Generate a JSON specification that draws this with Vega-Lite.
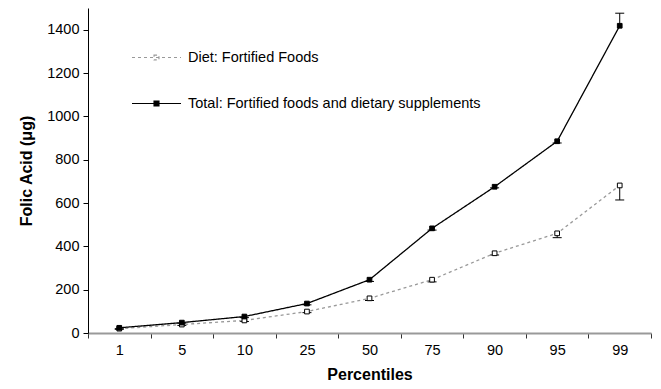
{
  "$schema": "https://vega.github.io/schema/vega-lite/v6.json",
  "width": 563,
  "height": 325,
  "autosize": {"type": "none"},
  "padding": {"left": 88, "top": 8, "right": 10, "bottom": 56},
  "background": "white",
  "config": {"view": {"stroke": null}, "font": "Liberation Sans"},
  "data": {
    "values": [
      {"percentile": "1", "series": "Diet: Fortified Foods", "value": 20, "err": 17},
      {"percentile": "5", "series": "Diet: Fortified Foods", "value": 39, "err": 35},
      {"percentile": "10", "series": "Diet: Fortified Foods", "value": 58, "err": 53},
      {"percentile": "25", "series": "Diet: Fortified Foods", "value": 99, "err": 94},
      {"percentile": "50", "series": "Diet: Fortified Foods", "value": 160, "err": 150},
      {"percentile": "75", "series": "Diet: Fortified Foods", "value": 246, "err": 236},
      {"percentile": "90", "series": "Diet: Fortified Foods", "value": 368, "err": 360},
      {"percentile": "95", "series": "Diet: Fortified Foods", "value": 460, "err": 440},
      {"percentile": "99", "series": "Diet: Fortified Foods", "value": 681, "err": 614},
      {"percentile": "1", "series": "Total: Fortified foods and dietary supplements", "value": 24, "err": 20},
      {"percentile": "5", "series": "Total: Fortified foods and dietary supplements", "value": 48, "err": 45},
      {"percentile": "10", "series": "Total: Fortified foods and dietary supplements", "value": 76, "err": 71},
      {"percentile": "25", "series": "Total: Fortified foods and dietary supplements", "value": 136, "err": 130},
      {"percentile": "50", "series": "Total: Fortified foods and dietary supplements", "value": 246, "err": 238},
      {"percentile": "75", "series": "Total: Fortified foods and dietary supplements", "value": 483, "err": 475},
      {"percentile": "90", "series": "Total: Fortified foods and dietary supplements", "value": 675, "err": 670},
      {"percentile": "95", "series": "Total: Fortified foods and dietary supplements", "value": 885, "err": 877},
      {"percentile": "99", "series": "Total: Fortified foods and dietary supplements", "value": 1418, "err": 1476}
    ]
  },
  "encoding": {
    "x": {
      "field": "percentile",
      "type": "ordinal",
      "sort": ["1", "5", "10", "25", "50", "75", "90", "95", "99"],
      "scale": {"type": "band", "paddingInner": 0, "paddingOuter": 0},
      "axis": {
        "title": "Percentiles",
        "labelAngle": 0,
        "tickBand": "extent",
        "domainColor": "#999999",
        "domainWidth": 2,
        "tickColor": "#333333",
        "tickSize": 5,
        "labelFontSize": 14.5,
        "labelColor": "black",
        "labelPadding": 5,
        "titleFontSize": 16,
        "titleFontWeight": "bold",
        "titleColor": "black",
        "titlePadding": 10
      }
    }
  },
  "layer": [
    {
      "mark": {"type": "rule", "color": "black", "strokeWidth": 1},
      "encoding": {
        "y": {
          "field": "value",
          "type": "quantitative",
          "title": "Folic Acid (μg)",
          "scale": {"domain": [0, 1500], "nice": false, "zero": true},
          "axis": {
            "values": [0, 200, 400, 600, 800, 1000, 1200, 1400],
            "format": "d",
            "grid": false,
            "domainColor": "black",
            "domainWidth": 1,
            "tickColor": "black",
            "tickSize": 5,
            "labelFontSize": 14.5,
            "labelColor": "black",
            "labelPadding": 4,
            "titleFontSize": 16,
            "titleFontWeight": "bold",
            "titleColor": "black",
            "titlePadding": 12
          }
        },
        "y2": {"field": "err"}
      }
    },
    {
      "mark": {"type": "tick", "color": "black", "size": 9, "thickness": 1, "opacity": 1},
      "encoding": {
        "y": {"field": "err", "type": "quantitative", "title": "Folic Acid (μg)"}
      }
    },
    {
      "mark": {"type": "line", "strokeWidth": 1.3},
      "encoding": {
        "y": {"field": "value", "type": "quantitative", "title": "Folic Acid (μg)"},
        "color": {
          "field": "series",
          "type": "nominal",
          "scale": {"domain": ["Diet: Fortified Foods", "Total: Fortified foods and dietary supplements"], "range": ["#999999", "#000000"]},
          "legend": {
            "title": null,
            "orient": "none",
            "legendX": 43,
            "legendY": 24,
            "symbolType": "M-1,0H1M-0.1,-0.1H0.1V0.1H-0.1Z",
            "symbolSize": 2400,
            "symbolStrokeWidth": 1.2,
            "labelFontSize": 14.5,
            "labelColor": "black",
            "labelOffset": 6,
            "rowPadding": 14,
            "labelLimit": 400
          }
        },
        "strokeDash": {
          "field": "series",
          "type": "nominal",
          "scale": {"domain": ["Diet: Fortified Foods", "Total: Fortified foods and dietary supplements"], "range": [[3, 3], [1, 0]]},
          "legend": null
        }
      }
    },
    {
      "mark": {"type": "point", "shape": "square", "filled": true, "stroke": "black", "strokeWidth": 1, "size": 22, "opacity": 1},
      "encoding": {
        "y": {"field": "value", "type": "quantitative", "title": "Folic Acid (μg)"},
        "fill": {
          "field": "series",
          "type": "nominal",
          "scale": {"domain": ["Diet: Fortified Foods", "Total: Fortified foods and dietary supplements"], "range": ["white", "black"]},
          "legend": null
        }
      }
    }
  ],
  "resolve": {"scale": {"y": "shared"}}
}
